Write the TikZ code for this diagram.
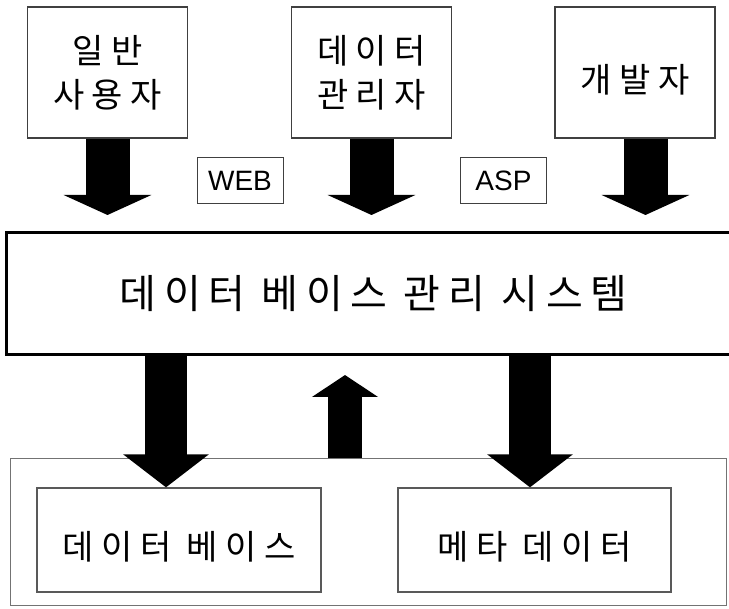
\documentclass[tikz,border=0pt]{standalone}
\usepackage{fontspec}
\setmainfont{Noto Sans CJK KR}
\newfontfamily\latinfont{Liberation Sans}
\usetikzlibrary{arrows.meta}

\tikzset{
  userbox/.style={draw=black!75,line width=1.2pt,minimum width=160pt,minimum height=131pt,
    align=center,font=\fontsize{34}{44}\selectfont\addfontfeatures{LetterSpace=22}},
  tagbox/.style={draw=black!75,line width=1pt,minimum width=86pt,minimum height=46pt,
    font=\latinfont\fontsize{28}{30}\selectfont},
  dbmsbox/.style={draw=black,line width=3pt,minimum width=734pt,minimum height=122pt,
    font=\fontsize{40}{44}\selectfont\addfontfeatures{LetterSpace=19}},
  storebox/.style={draw=black!65,line width=1.3pt,minimum height=104pt,
    text height=40pt,text depth=0pt,
    font=\fontsize{34}{40}\selectfont\addfontfeatures{LetterSpace=22}},
  bigarrow/.style={line width=44pt,-{Triangle[width=87pt,length=20pt]}},
  lowarrow/.style={line width=42pt,-{Triangle[width=84pt,length=33pt]}},
  uparrow/.style={line width=34pt,-{Triangle[width=65pt,length=22pt]}}
}

\begin{document}
\begin{tikzpicture}[x=1pt,y=-1pt]
  \useasboundingbox (0,0) rectangle (729,609);

  % users
  \node[userbox] (u1) at (107.5,72.5) {일반\\사용자};
  \node[userbox] (u2) at (371.5,72.5) {데이터\\관리자};
  \node[userbox,text height=40pt,text depth=0pt] (u3) at (635,72.5) {개발자};

  \node[tagbox] (web) at (240,181) {WEB};
  \node[tagbox] (asp) at (503.5,181) {ASP};

  % management system
  \node[dbmsbox] (dbms) at (373.5,294) {데이터 베이스 관리 시스템};

  % storage
  \node[draw=black!55,line width=1pt,minimum width=716pt,minimum height=147pt] (store) at (368,532.5) {};
  \node[storebox,minimum width=284pt] (db) at (179,540) {데이터 베이스};
  \node[storebox,minimum width=273pt] (meta) at (534.5,540) {메타 데이터};

  \coordinate (t1) at (107.5,215);
  \coordinate (t2) at (371.5,215);
  \coordinate (t3) at (645.5,215);
  \coordinate (d1) at (166,355);
  \coordinate (d2) at (530,355);
  \coordinate (r1) at (345,375);

  \draw[bigarrow] (u1.south) -- (t1);
  \draw[bigarrow] (u2.south) -- (t2);
  \draw[bigarrow] (u3.south -| t3) -- (t3);

  \draw[lowarrow] (d1) -- (d1 |- db.north);
  \draw[lowarrow] (d2) -- (d2 |- meta.north);
  \draw[uparrow] (r1 |- store.north) -- (r1);

\end{tikzpicture}
\end{document}
